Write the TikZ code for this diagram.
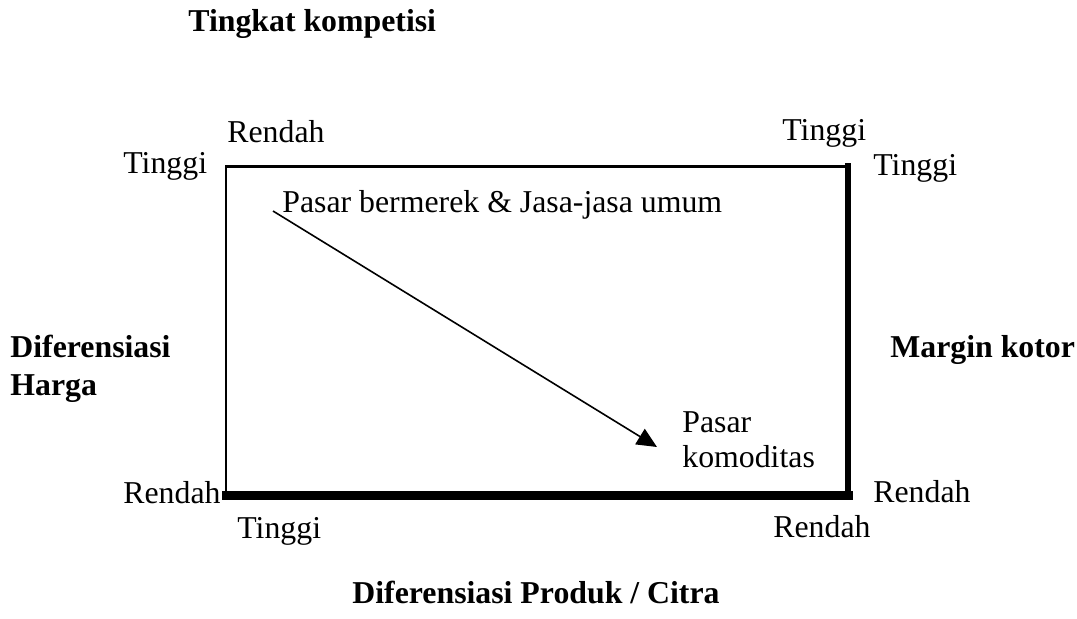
\documentclass[tikz,border=0pt]{standalone}
\usepackage{fontspec}
\setmainfont{Liberation Serif}
\usetikzlibrary{arrows.meta}
\begin{document}
\begin{tikzpicture}[x=0.5pt,y=-0.5pt,
  lbl/.style={anchor=base west,inner sep=0pt,font=\fontsize{15.9}{18}\selectfont},
  ttl/.style={lbl,font=\fontsize{15.9}{18}\selectfont\bfseries},
  edge/.style={line cap=rect,black}]
\useasboundingbox[fill=white] (0,0) rectangle (1077,618);
% box
\coordinate (tl) at (226,166);
\coordinate (tr) at (848,166);
\coordinate (br) at (848,495);
\coordinate (bl) at (226,495);
\draw[edge,line width=1.5pt] (tl) -- (tr);
\draw[edge,line width=1.4pt] (tl) -- (bl);
\draw[edge,line width=3pt] (tr) -- (br);
\draw[edge,line width=4.5pt] (bl) -- (br);
% titles
\node[ttl] (tk) at (188,31) {Tingkat kompetisi};
\node[ttl] (dh1) at (10,357) {Diferensiasi};
\node[ttl] (dh2) at (10,395) {Harga};
\node[ttl] (mk) at (890,357) {Margin kotor};
\node[ttl] (dp) at (352,603) {Diferensiasi Produk / Citra};
% corner labels
\node[lbl] (r1) at (227,142) {Rendah};
\node[lbl] (t1) at (123,173) {Tinggi};
\node[lbl] (t2) at (782,140) {Tinggi};
\node[lbl] (t3) at (873,175) {Tinggi};
\node[lbl] (r2) at (123,503) {Rendah};
\node[lbl] (t4) at (237,538) {Tinggi};
\node[lbl] (r3) at (873,502) {Rendah};
\node[lbl] (r4) at (773,537) {Rendah};
% inner labels
\node[lbl] (pb) at (282,212) {Pasar bermerek \& Jasa-jasa umum};
\node[lbl] (pk1) at (682,432) {Pasar};
\node[lbl] (pk2) at (682,467) {komoditas};
% arrow
\coordinate (as) at (273,211);
\coordinate (ae) at (657,447);
\draw[line width=0.8pt,-{Triangle[length=10pt,width=9pt]}] (as) -- (ae);
\end{tikzpicture}
\end{document}
